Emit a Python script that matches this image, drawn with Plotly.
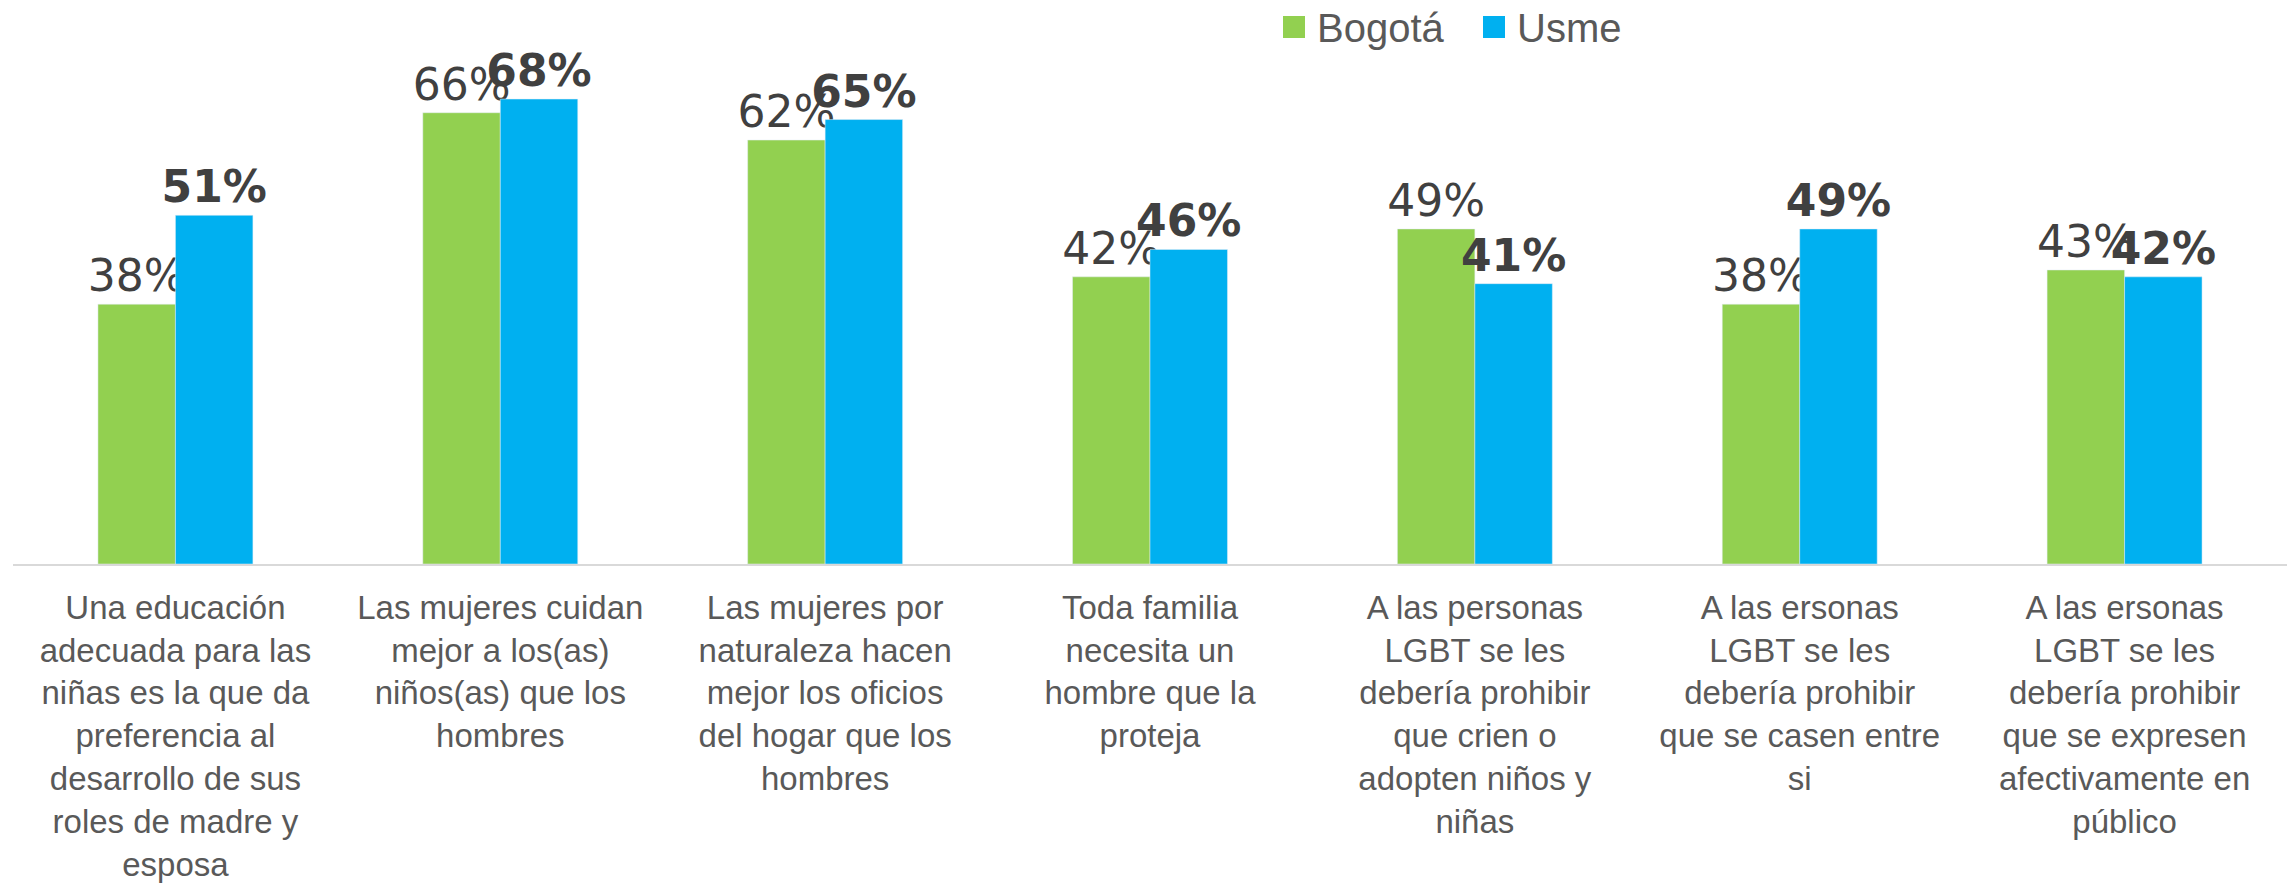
import plotly.graph_objects as go

# Categories (statements) and survey shares in percent
categories = [
    "Una educación<br>adecuada para las<br>niñas es la que da<br>preferencia al<br>desarrollo de sus<br>roles de madre y<br>esposa",
    "Las mujeres cuidan<br>mejor a los(as)<br>niños(as) que los<br>hombres",
    "Las mujeres por<br>naturaleza hacen<br>mejor los oficios<br>del hogar que los<br>hombres",
    "Toda familia<br>necesita un<br>hombre que la<br>proteja",
    "A las personas<br>LGBT se les<br>debería prohibir<br>que crien o<br>adopten niños y<br>niñas",
    "A las ersonas<br>LGBT se les<br>debería prohibir<br>que se casen entre<br>si",
    "A las ersonas<br>LGBT se les<br>debería prohibir<br>que se expresen<br>afectivamente en<br>público",
]
series_names = ["Bogotá", "Usme"]
bogota = [38, 66, 62, 42, 49, 38, 43]
usme = [51, 68, 65, 46, 41, 49, 42]

colors = ["#92D050", "#00B0F0"]
label_color = "#404040"
axis_text = "#595959"

W, H = 2295, 886
M_L, M_R, M_T, M_B = 13, 8, 17, 322

fig = go.Figure()
fig.add_trace(go.Bar(
    x=categories, y=bogota, name=series_names[0], marker_color=colors[0],
    texttemplate="%{y}%", textposition="outside", constraintext="none",
    cliponaxis=False, showlegend=False,
    textfont=dict(family="DejaVu Sans", size=44, color=label_color),
))
fig.add_trace(go.Bar(
    x=categories, y=usme, name=series_names[1], marker_color=colors[1],
    texttemplate="<b>%{y}%</b>", textposition="outside", constraintext="none",
    cliponaxis=False, showlegend=False,
    textfont=dict(family="DejaVu Sans", size=44, color=label_color),
))

# pixel -> paper helpers for the legend
pw = W - M_L - M_R
ph = H - M_T - M_B
def px_x(x):
    return (x - M_L) / pw
def px_y(y):
    return (H - M_B - y) / ph

shapes = []
annotations = []
legend_x = [1283, 1483]
for name, col, x0 in zip(series_names, colors, legend_x):
    shapes.append(dict(type="rect", xref="paper", yref="paper",
                       x0=px_x(x0), x1=px_x(x0 + 22), y0=px_y(38), y1=px_y(16),
                       fillcolor=col, line=dict(width=0)))
    annotations.append(dict(xref="paper", yref="paper", x=px_x(x0 + 32), y=px_y(28),
                            text=name, showarrow=False, xanchor="left", yanchor="middle",
                            font=dict(family="Liberation Sans, Arial", size=40, color=axis_text)))

fig.update_layout(
    width=W, height=H,
    margin=dict(l=M_L, r=M_R, t=M_T, b=M_B, autoexpand=False),
    paper_bgcolor="white", plot_bgcolor="white",
    barmode="group", bargap=0.523, bargroupgap=0,
    shapes=shapes, annotations=annotations,
    xaxis=dict(showline=True, linecolor="#D9D9D9", linewidth=2, ticks="",
               ticklabelstandoff=13, automargin=False,
               tickfont=dict(family="Liberation Sans, Arial", size=33, color=axis_text),
               showgrid=False, zeroline=False, tickangle=0),
    yaxis=dict(range=[0, 80], visible=False, showgrid=False, zeroline=False),
)

fig.write_html("out.html")
